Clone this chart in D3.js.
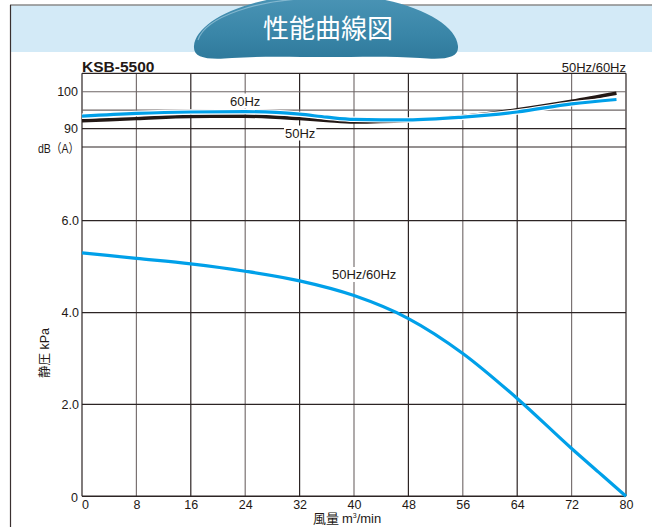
<!DOCTYPE html>
<html><head><meta charset="utf-8">
<script src="https://cdn.jsdelivr.net/npm/d3@7"></script>
<style>
html,body{margin:0;padding:0;background:#fff;}
svg{display:block;}
text{font-family:"Liberation Sans","Noto Sans CJK JP",sans-serif;fill:#231815;}
</style></head>
<body>
<svg id="c" width="652" height="527"></svg>
<script>
// ---- data ----
const flowTicks = [0, 8, 16, 24, 32, 40, 48, 56, 64, 72, 80];
const pressureTicks = [0, 2.0, 4.0, 6.0];
const pressureTickLabels = ["0", "2.0", "4.0", "6.0"];
const dbTicks = [90, 100];
const dbGrid = [85, 90, 95, 100, 105];

const pFlow = [0, 8, 16, 24, 32, 40, 48, 56, 64, 72, 76, 80];
const pressure = [5.30, 5.18, 5.06, 4.90, 4.69, 4.37, 3.87, 3.11, 2.13, 1.04, 0.52, 0];

const dbFlow = [0, 8, 16, 24, 32, 36, 40, 48, 56, 64, 72, 78.6];
const db60 = [93.35, 94.1, 94.5, 94.6, 93.9, 93.1, 92.5, 92.35, 93.1, 94.5, 96.7, 97.9];
const db50 = [92.1, 92.7, 93.3, 93.35, 92.7, 92.2, 91.8, 92.2, 93.3, 95.1, 97.4, 99.6];

// ---- layout ----
const svg = d3.select("#c");
const X0 = 82, X1 = 626;
const x = d3.scaleLinear().domain([0, 80]).range([X0, X1]);
const yP = d3.scaleLinear().domain([0, 6]).range([496.3, 220.7]);
const yD = d3.scaleLinear().domain([85, 105]).range([147, 73.3]);

// header band
svg.append("rect").attr("x", 10).attr("y", 5).attr("width", 642).attr("height", 47).attr("fill", "#d3eaf7");
svg.append("line").attr("x1", 10).attr("x2", 652).attr("y1", 5).attr("y2", 5).attr("stroke", "#8a8a8a").attr("stroke-width", 1.5);
svg.append("line").attr("x1", 10.5).attr("x2", 10.5).attr("y1", 5).attr("y2", 527).attr("stroke", "#3a3030").attr("stroke-width", 1.2);

// banner
const defs = svg.append("defs");
const g1 = defs.append("linearGradient").attr("id", "bg").attr("x1", 0).attr("y1", 0).attr("x2", 0).attr("y2", 1);
g1.append("stop").attr("offset", "0%").attr("stop-color", "#4b95b6");
g1.append("stop").attr("offset", "60%").attr("stop-color", "#3a86a8");
g1.append("stop").attr("offset", "100%").attr("stop-color", "#2f7a9c");
const bannerPath = "M194,46 C196,20 252,-6 326,-6 C400,-6 456,20 458,46 C459,58 445,60 420,58 C390,56 360,57 326,57 C292,57 262,56 232,58 C207,60 193,58 194,46 Z";
svg.append("path").attr("d", bannerPath).attr("fill", "url(#bg)");
svg.append("path").attr("d", "M198,40 C205,18 255,-2 326,-2").attr("fill", "none").attr("stroke", "#9cc8dc").attr("stroke-width", 1.2).attr("opacity", 0.7);
svg.append("text").attr("x", 328).attr("y", 26).attr("text-anchor", "middle").attr("dominant-baseline", "central")
  .attr("font-size", 26).style("fill", "#fff").style("font-family", "'Noto Sans CJK JP',sans-serif").text("性能曲線図");

// grid
const gridG = svg.append("g");
flowTicks.forEach((t, i) => {
  gridG.append("line").attr("x1", x(t)).attr("x2", x(t)).attr("y1", yD(105)).attr("y2", yP(0))
    .attr("stroke", (i % 2 === 0) ? "#2c2424" : "#7a7272").attr("stroke-width", 1.2);
});
dbGrid.forEach((t) => {
  gridG.append("line").attr("x1", X0).attr("x2", X1).attr("y1", yD(t)).attr("y2", yD(t))
    .attr("stroke", (t === 95 || t === 100) ? "#6e6666" : "#2c2424").attr("stroke-width", 1.2);
});
pressureTicks.forEach((t) => {
  gridG.append("line").attr("x1", X0).attr("x2", X1).attr("y1", yP(t)).attr("y2", yP(t))
    .attr("stroke", "#2c2424").attr("stroke-width", t === 0 ? 1.6 : 1.2);
});

// axes (labels)
const axP = d3.axisLeft(yP).tickValues(pressureTicks.slice(1)).tickFormat((d, i) => pressureTickLabels[i + 1]).tickSize(0).tickPadding(3);
const gP = svg.append("g").attr("transform", `translate(${X0},0)`).call(axP);
const axD = d3.axisLeft(yD).tickValues(dbTicks).tickFormat(d3.format("d")).tickSize(0).tickPadding(4);
const gD = svg.append("g").attr("transform", `translate(${X0},0)`).call(axD);
const axX = d3.axisBottom(x).tickValues(flowTicks).tickFormat(d3.format("d")).tickSize(0).tickPadding(4);
const gX = svg.append("g").attr("transform", `translate(0,${yP(0)})`).call(axX);
[gP, gD, gX].forEach(g => {
  g.select(".domain").remove();
  g.selectAll("text").attr("font-size", 12.5).style("fill", "#231815").style("font-family", "'Liberation Sans',sans-serif");
});
gX.selectAll("text").filter(d => d === 0).attr("dx", 3);
svg.append("text").attr("x", 78).attr("y", 502).attr("text-anchor", "end").attr("font-size", 12.5).text("0");
svg.append("text").attr("x", 79).attr("y", 152.5).attr("text-anchor", "end").attr("font-size", 12.5)
  .attr("textLength", 41).attr("lengthAdjust", "spacingAndGlyphs")
  .text("dB（A）");

// titles
svg.append("text").attr("x", 82).attr("y", 72).attr("font-size", 15.5).attr("font-weight", "bold").text("KSB-5500");
svg.append("text").attr("x", 626).attr("y", 72).attr("text-anchor", "end").attr("font-size", 13).text("50Hz/60Hz");
const xl = svg.append("text").attr("x", 313).attr("y", 523).attr("font-size", 13);
xl.append("tspan").style("font-family", "'Noto Sans CJK JP',sans-serif").text("風量 ");
xl.append("tspan").text("m");
xl.append("tspan").attr("font-size", 7).attr("dy", -5).text("3");
xl.append("tspan").attr("dy", 5).text("/min");
svg.append("text").attr("transform", "translate(49,353) rotate(-90)").attr("text-anchor", "middle").attr("font-size", 12.5)
  .html('<tspan style="font-family:\'Noto Sans CJK JP\',sans-serif">静圧</tspan> kPa');

// curves
const lineP = d3.line().x((d, i) => x(pFlow[i])).y(d => yP(d)).curve(d3.curveMonotoneX);
const line60 = d3.line().x((d, i) => x(dbFlow[i])).y(d => yD(d)).curve(d3.curveMonotoneX);

// labels with white backgrounds
function bgLabel(tx, ty, str, anchor) {
  const t = svg.append("text").attr("x", tx).attr("y", ty).attr("font-size", 13).attr("text-anchor", anchor || "start").text(str);
  const bb = t.node().getBBox();
  svg.insert("rect", () => t.node()).attr("x", bb.x - 1).attr("y", bb.y).attr("width", bb.width + 2).attr("height", bb.height).attr("fill", "#fff");
  return t;
}

svg.append("path").attr("d", line60(db50)).attr("fill", "none").attr("stroke", "#231815").attr("stroke-width", 3.5);
svg.append("path").attr("d", line60(db60)).attr("fill", "none").attr("stroke", "#fff").attr("stroke-width", 5.5);
svg.append("path").attr("d", line60(db60)).attr("fill", "none").attr("stroke", "#00a0e9").attr("stroke-width", 3.2);
svg.append("path").attr("d", lineP(pressure)).attr("fill", "none").attr("stroke", "#00a0e9").attr("stroke-width", 3.2);

bgLabel(230, 105.5, "60Hz");
bgLabel(285, 137.5, "50Hz");
bgLabel(332, 279, "50Hz/60Hz");
</script>
</body></html>
